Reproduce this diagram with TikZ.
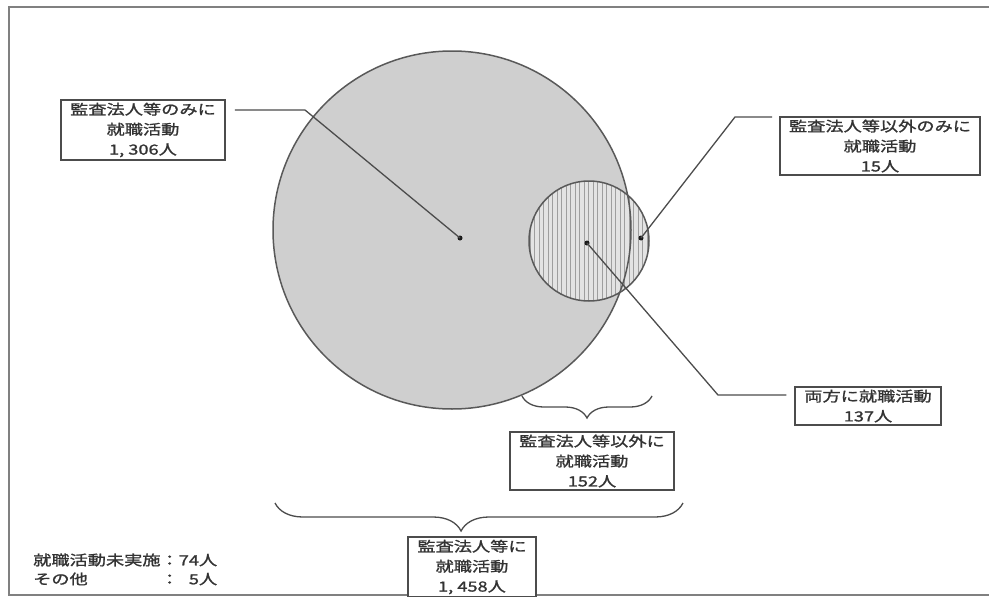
\documentclass[tikz,border=0pt]{standalone}
\usepackage{fontspec}
\newfontfamily\jp[FakeStretch=1.3,FakeBold=1.3]{Noto Sans CJK JP}
\usetikzlibrary{decorations.pathreplacing}
\begin{document}
\begin{tikzpicture}[x=1pt,y=-1pt,
  lbl/.style={draw=black!70, line width=1.9pt, fill=white, align=center,
    inner xsep=9pt, inner ysep=3pt, font=\jp\fontsize{14}{20}\selectfont, text=black!80},
  lead/.style={draw=black!70, line width=1.3pt},
  dotm/.style={circle, fill=black!90, inner sep=0pt, minimum size=5pt},
  brc/.style={draw=black!70, line width=1.3pt, decorate},
  ring/.style={draw=black!65, line width=1.5pt}]
\useasboundingbox (0,0) rectangle (989,597);
\fill[white] (0,0) rectangle (989,597);
\draw[black!50, line width=2.2pt] (9,7) rectangle (1000,595);
% big circle
\fill[black!19] (452,230) circle (179pt);
% small circle
\fill[black!11] (589,241) circle (60pt);
\begin{scope}
  \clip (589,241) circle (60pt);
  \foreach \x in {530,534.5,...,650} \draw[black!38, line width=0.8pt] (\x,178) -- (\x,304);
\end{scope}
\draw[ring] (589,241) circle (60pt);
\draw[ring] (452,230) circle (179pt);
% dots
\node[dotm] (d1) at (460,238) {};
\node[dotm] (d2) at (587,243) {};
\node[dotm] (d3) at (641,238) {};
% labels
\node[lbl] (box1) at (143,130) {監査法人等のみに\\就職活動\\1, 306人};
\node[lbl] (box2) at (880,146) {監査法人等以外のみに\\就職活動\\15人};
\node[lbl] (box3) at (868,406) {両方に就職活動\\137人};
\node[lbl] (box4) at (592,461) {監査法人等以外に\\就職活動\\152人};
\node[lbl] (box5) at (472,567) {監査法人等に\\就職活動\\1, 458人};
% leaders
\coordinate (k1) at (305,110);
\coordinate (k2) at (735,117);
\coordinate (k3) at (718,395);
\draw[lead, shorten <=9pt] (box1.east |- k1) -- (k1) -- (d1.center);
\draw[lead, shorten <=7pt] (box2.west |- k2) -- (k2) -- (d3.center);
\draw[lead] (d2.center) -- (k3) -- ([xshift=-8pt]box3.west |- k3);
% braces
\draw[brc, decoration={brace, amplitude=22pt, aspect=0.5}] (652,396) -- (522,396);
\draw[brc, decoration={brace, amplitude=28pt, aspect=0.544}] (683,503) -- (275,503);
% note
\node[anchor=west, font=\jp\fontsize{14}{19}\selectfont, text=black!80, inner sep=0pt] (note) at (33,571)
  {\begin{tabular}{@{}l@{}l@{}}就職活動未実施&：74人\\その他&：\phantom{7}5人\end{tabular}};
\end{tikzpicture}
\end{document}
